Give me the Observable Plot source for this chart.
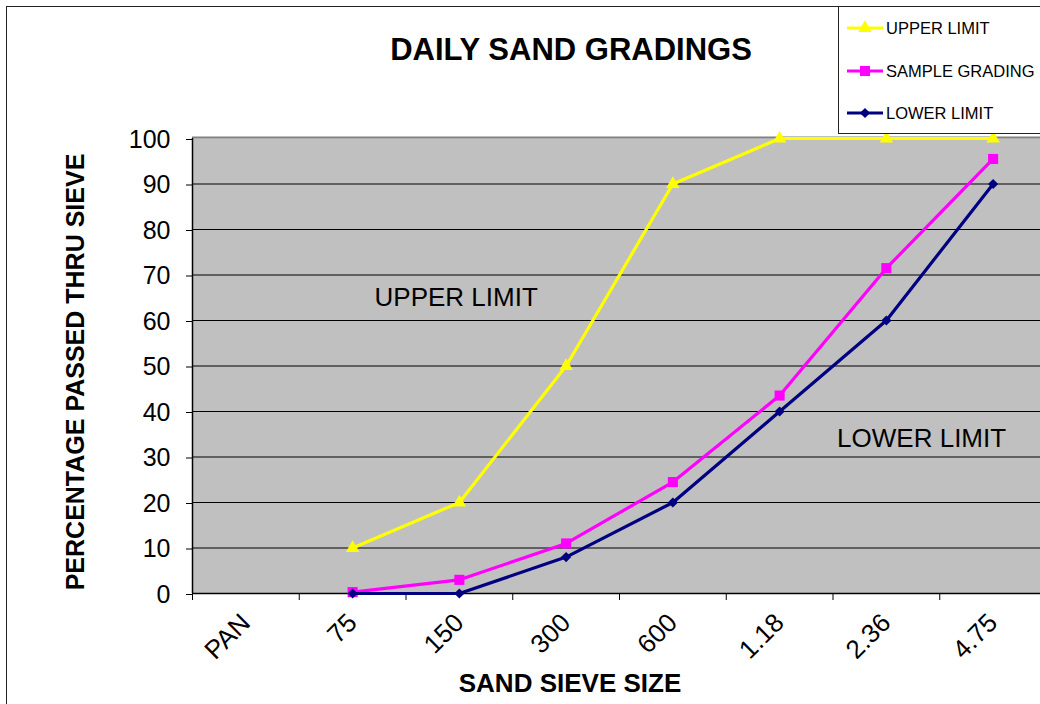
<!DOCTYPE html>
<html><head><meta charset="utf-8">
<script src="https://cdn.jsdelivr.net/npm/d3@7"></script>
<script src="https://cdn.jsdelivr.net/npm/@observablehq/plot@0.6"></script>
<style>
html,body{margin:0;padding:0;background:#fff;overflow:hidden;}
#wrap{position:relative;width:1040px;height:704px;overflow:hidden;font-family:"Liberation Sans",Arial,sans-serif;}
#wrap svg{position:absolute;left:0;top:0;}
</style></head><body><div id="wrap"></div>
<script>
// ---- data ----
const categories = ["PAN", "75", "150", "300", "600", "1.18", "2.36", "4.75"];
const upperLimit = [null, 10, 20, 50, 90, 100, 100, 100];
const sampleGrading = [null, 0.3, 3, 11, 24.5, 43.5, 71.5, 95.5];
const lowerLimit = [null, 0, 0, 8, 20, 40, 60, 90];
const yTicks = [0, 10, 20, 30, 40, 50, 60, 70, 80, 90, 100];
const seriesNames = ["UPPER LIMIT", "SAMPLE GRADING", "LOWER LIMIT"];
const seriesColors = ["#FFFF00", "#FF00FF", "#000080"];
const seriesSymbols = ["triangle", "square", "diamond2"];
const seriesR = [5.0, 5.7, 4.6];
const annotations = [
  {text: "UPPER LIMIT", x: 2.47, y: 65},
  {text: "LOWER LIMIT", x: 6.83, y: 34}
];
const title = "DAILY SAND GRADINGS";
const xLabel = "SAND SIEVE SIZE";
const yLabel = "PERCENTAGE PASSED THRU SIEVE";

const seriesValues = [upperLimit, sampleGrading, lowerLimit];
const rows = seriesValues.map((vals, s) =>
  categories.map((c, i) => ({series: seriesNames[s], cat: c, x: i + 0.5, value: vals[i]}))
    .filter(d => d.value != null));
const catRows = categories.map((c, i) => ({cat: c, x: i + 0.5}));
const boundaries = d3.range(0, categories.length + 1);

const FONT = '"Liberation Sans", Arial, sans-serif';

const lineMarks = [];
rows.forEach((r, s) => {
  lineMarks.push(Plot.line(r, {x: "x", y: "value", stroke: seriesColors[s], strokeWidth: 3.2}));
  lineMarks.push(Plot.dot(r, {x: "x", y: "value", symbol: () => seriesSymbols[s], r: seriesR[s],
    fill: seriesColors[s], stroke: "none"}));
});

const chart = Plot.plot({
  width: 1046, height: 704,
  marginLeft: 192, marginRight: 0, marginTop: 138, marginBottom: 111,
  style: {maxWidth: "none", background: "transparent", fontFamily: FONT, color: "black"},
  x: {type: "linear", domain: [0, categories.length], axis: null},
  y: {domain: [0, 100], axis: null},
  symbol: {type: "identity"},
  marks: [
    Plot.frame({fill: "#C0C0C0", stroke: null}),
    Plot.ruleY(yTicks.filter(v => v > 0 && v < 100), {stroke: "black", strokeWidth: 1}),
    Plot.ruleY([100], {stroke: "#808080", strokeWidth: 2, dy: -1}),
    Plot.ruleY([0], {stroke: "black", strokeWidth: 1.5}),
    Plot.ruleX([0], {stroke: "black", strokeWidth: 1.5}),
    Plot.axisY(yTicks, {tickSize: 6, tickPadding: 16, fontSize: 25, label: null, stroke: "black", dy: 1}),
    Plot.axisX(boundaries, {tickSize: 7, tickFormat: () => "", label: null, stroke: "black"}),
    Plot.text(catRows, {x: "x", y: () => 0, text: "cat", rotate: -45, textAnchor: "end",
      dx: 0, dy: 25, fontSize: 26, fill: "black"}),
    Plot.text(annotations, {x: "x", y: "y", text: "text", fontSize: 26, fill: "black"}),
    ...lineMarks
  ]
});
const wrap = document.getElementById("wrap");
wrap.appendChild(chart);

// overlay: border, titles, legend
const svg = d3.select(wrap).append("svg").attr("width", 1040).attr("height", 704)
  .style("font-family", FONT);
svg.append("rect").attr("x", 6.5).attr("y", 6.5).attr("width", 1100).attr("height", 800)
  .attr("fill", "none").attr("stroke", "#222").attr("stroke-width", 1);
svg.append("text").attr("x", 571).attr("y", 60).attr("text-anchor", "middle")
  .attr("font-size", 31).attr("font-weight", "bold").text(title);
svg.append("text").attr("x", 570).attr("y", 692).attr("text-anchor", "middle")
  .attr("font-size", 26).attr("font-weight", "bold").text(xLabel);
svg.append("text").attr("transform", "translate(84,372) rotate(-90)").attr("text-anchor", "middle")
  .attr("font-size", 25).attr("font-weight", "bold").text(yLabel);

const lg = svg.append("g");
lg.append("rect").attr("x", 838.5).attr("y", 6.5).attr("width", 300).attr("height", 127)
  .attr("fill", "white").attr("stroke", "#222").attr("stroke-width", 1);
const d3Symbols = {triangle: d3.symbolTriangle, square: d3.symbolSquare, diamond2: d3.symbolDiamond2};
const legendY = [28, 71, 113];
seriesNames.forEach((name, s) => {
  const y = legendY[s];
  lg.append("line").attr("x1", 847).attr("x2", 883).attr("y1", y).attr("y2", y)
    .attr("stroke", seriesColors[s]).attr("stroke-width", 3);
  lg.append("path").attr("transform", `translate(865,${y})`)
    .attr("d", d3.symbol(d3Symbols[seriesSymbols[s]], Math.PI * seriesR[s] * seriesR[s])())
    .attr("fill", seriesColors[s]);
  lg.append("text").attr("x", 886).attr("y", y).attr("dy", "0.35em")
    .attr("font-size", 16.5).text(name);
});
</script>
</body></html>
